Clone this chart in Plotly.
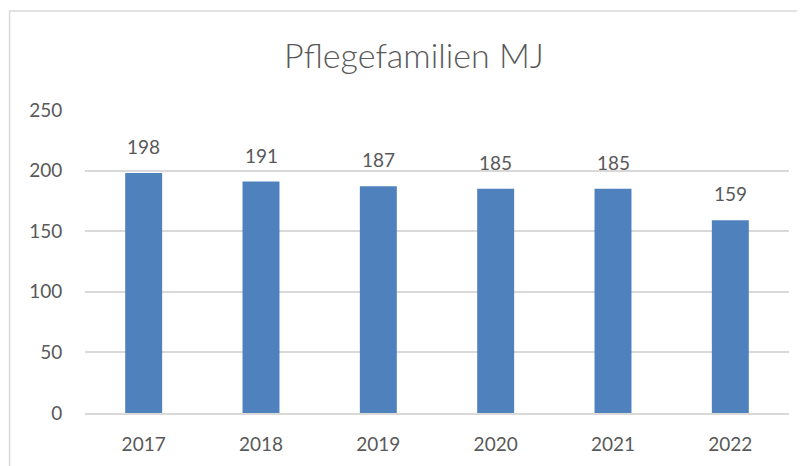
import plotly.graph_objects as go

years = ["2017", "2018", "2019", "2020", "2021", "2022"]
values = [198, 191, 187, 185, 185, 159]
y_ticks = [0, 50, 100, 150, 200, 250]

FONT = "Lato"
GREY = "#595959"

fig = go.Figure()
fig.add_trace(go.Bar(
    x=years, y=values, width=0.315,
    marker=dict(color="#4F81BD", line=dict(width=0)),
))
for i, v in enumerate(values):
    fig.add_annotation(x=i, y=v, text=str(v), showarrow=False,
                       yanchor="bottom", yshift=13,
                       font=dict(family=FONT, size=19, color=GREY))

# page body has an 8px margin: figure coordinates = screenshot coordinates - 8
OFF = 8
L, R, T, B = 84.5 - OFF, 805 - (789 - OFF), 110 - OFF, 466 - (413 - OFF)
W, H = 805 - L - R, 466 - T - B
fig.add_shape(type="rect", xref="paper", yref="paper",
              x0=(9 - OFF - L) / W, x1=(830 - L) / W,
              y0=(466 - B - 490) / H, y1=(466 - B - (11 - OFF)) / H,
              line=dict(color="#D9D9D9", width=1.5), fillcolor="rgba(0,0,0,0)", layer="below")

fig.update_layout(
    width=805, height=466,
    margin=dict(l=L, r=R, t=T, b=B),
    paper_bgcolor="white", plot_bgcolor="white",
    showlegend=False,
    title=dict(text="Pflegefamilien MJ", x=(414 - OFF) / 805, xanchor="center",
               y=1 - (56 - OFF) / 466, yanchor="middle",
               font=dict(family=FONT, size=34, color=GREY, weight=300)),
    font=dict(family=FONT, color=GREY),
)
fig.update_xaxes(type="category", range=[-0.5, 5.5], showgrid=False, showline=True,
                 linecolor="#D9D9D9", linewidth=1.5,
                 tickfont=dict(size=19, color=GREY), ticks="outside", ticklen=13,
                 tickcolor="rgba(0,0,0,0)")
fig.update_yaxes(range=[0, 250], tickvals=y_ticks, showgrid=True, gridcolor="#D9D9D9", gridwidth=1.5,
                 zeroline=False, showline=False, tickfont=dict(size=19, color=GREY),
                 ticks="outside", ticklen=18, tickcolor="rgba(0,0,0,0)")

fig.write_html("out.html")
